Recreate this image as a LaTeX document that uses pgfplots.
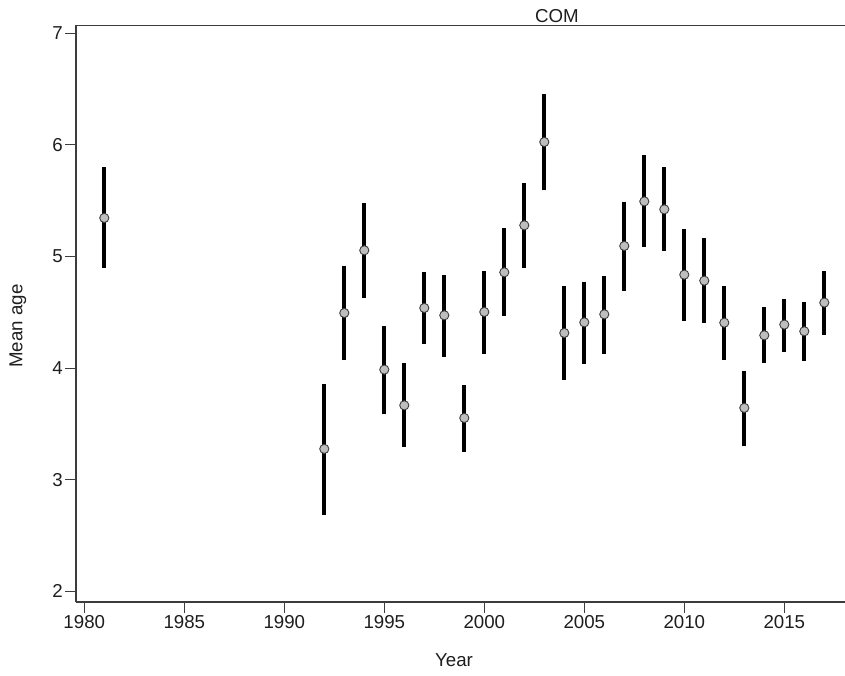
\documentclass[border=0pt]{standalone}
\usepackage{fontspec}
\setmainfont{Liberation Sans}
\usepackage{pgfplots}
\usepackage{pgfplotstable}
\pgfplotsset{compat=1.18}
\definecolor{axgray}{RGB}{60,60,60}
\definecolor{ptfill}{RGB}{190,190,190}
\definecolor{txt}{RGB}{30,30,30}
\pgfplotstableread{
year mean ep em
1981 5.344 0.453 0.451
1992 3.276 0.584 0.588
1993 4.493 0.424 0.418
1994 5.054 0.427 0.426
1995 3.986 0.387 0.394
1996 3.666 0.380 0.376
1997 4.538 0.319 0.322
1998 4.472 0.364 0.376
1999 3.553 0.296 0.301
2000 4.502 0.370 0.373
2001 4.857 0.394 0.388
2002 5.278 0.382 0.382
2003 6.024 0.426 0.430
2004 4.314 0.417 0.418
2005 4.409 0.362 0.370
2006 4.481 0.344 0.352
2007 5.093 0.397 0.400
2008 5.492 0.412 0.411
2009 5.421 0.379 0.373
2010 4.836 0.412 0.414
2011 4.782 0.379 0.376
2012 4.406 0.329 0.337
2013 3.643 0.334 0.340
2014 4.293 0.250 0.245
2015 4.389 0.232 0.242
2016 4.329 0.263 0.269
2017 4.586 0.286 0.293
}\datatable
\begin{document}
\begin{tikzpicture}
\path[use as bounding box] (0,0) rectangle (845pt,675pt);
\begin{axis}[
  at={(76pt,73pt)}, anchor=south west,
  scale only axis, width=770pt, height=576.6pt,
  xmin=1979.585, xmax=2018.085, ymin=1.905, ymax=7.068,
  axis x line=box, axis y line*=left,
  axis line style={axgray, line width=1.3pt},
  xtick={1980,1985,...,2015}, ytick={2,3,4,5,6,7},
  xtick pos=bottom, ytick pos=left,
  tick align=outside, major tick length=11pt,
  tick style={axgray, line width=0.9pt},
  x tick label style={/pgf/number format/1000 sep={}},
  /pgf/number format/assume math mode=true,
  ticklabel style={font=\fontsize{18.7}{21}\selectfont, text=txt},
  x tick label style={inner sep=1pt, yshift=-1pt},
  y tick label style={inner sep=1pt, xshift=-1pt},
  clip=false,
]
\addplot[
  only marks,
  mark=*, mark size=4.6pt,
  mark options={fill=ptfill, draw=axgray, line width=0.9pt},
  error bars/.cd, y dir=both, y explicit,
  error mark=none,
  error bar style={line width=4pt, black},
] table[x=year, y=mean, y error plus=ep, y error minus=em] {\datatable};
\end{axis}
\node[anchor=base, font=\fontsize{18.7}{21}\selectfont, text=txt] at (557pt,652.5pt) {COM};
\node[anchor=base, font=\fontsize{18.7}{21}\selectfont, text=txt] at (454pt,9pt) {Year};
\node[rotate=90, font=\fontsize{18.7}{21}\selectfont, text=txt] at (18pt,349pt) {Mean age};
\end{tikzpicture}
\end{document}
